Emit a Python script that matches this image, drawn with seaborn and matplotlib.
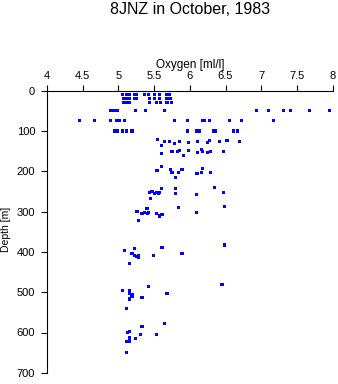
import matplotlib
matplotlib.use("Agg")
import matplotlib.pyplot as plt
import seaborn as sns
import pandas as pd

title = "8JNZ in October, 1983"
xlabel = "Oxygen [ml/l]"
ylabel = "Depth [m]"
x_ticks = [4, 4.5, 5, 5.5, 6, 6.5, 7, 7.5, 8]
x_tick_labels = ["4", "4.5", "5", "5.5", "6", "6.5", "7", "7.5", "8"]
y_ticks = [0, 100, 200, 300, 400, 500, 600, 700]

# upper layer (0-100 m)
oxygen_upper = [5.06, 5.10, 5.14, 5.17, 5.24, 5.28, 5.34, 5.40, 5.51, 5.57, 5.64,
                5.06, 5.12, 5.16, 5.22, 5.25, 5.36, 5.42, 5.51, 5.57, 5.68, 5.71,
                5.07, 5.11, 5.16, 5.22, 5.25, 5.44, 5.51, 5.57, 5.68, 5.73,
                5.07, 5.11, 5.16, 5.44, 5.53, 5.59, 5.68, 5.74,
                4.89, 4.93, 4.98, 5.24, 5.38, 5.64, 6.93, 7.10, 7.31, 7.41, 7.67, 7.95,
                4.46, 4.66, 4.89, 4.97, 5.02, 5.08, 5.79, 5.97, 6.18, 6.20, 6.27, 6.55, 6.72, 7.17,
                4.95, 4.99, 5.06, 5.11, 5.19, 5.97, 6.09, 6.14, 6.33, 6.36, 6.61, 6.67]
depth_upper = [0, 0, 0, 0, 0, 0, 0, 0, 0, 0, 0,
               9, 9, 9, 9, 9, 9, 9, 9, 9, 9, 9,
               20, 20, 20, 20, 20, 20, 20, 20, 20, 20,
               30, 30, 30, 30, 30, 30, 30, 30,
               49, 49, 49, 49, 49, 49, 50, 50, 50, 50, 50, 50,
               75, 75, 75, 75, 75, 75, 75, 75, 75, 75, 75, 75, 75, 75,
               100, 100, 100, 100, 100, 100, 100, 100, 100, 100, 100, 100]

# intermediate layer (120-330 m)
oxygen_mid = [5.55, 5.60, 5.64, 5.71, 5.78, 5.86, 5.98, 6.11, 6.25, 6.27, 6.42, 6.52, 6.69,
              5.60, 5.75, 5.83, 5.86, 5.91, 5.98, 6.11, 6.16, 6.18, 6.25, 6.29, 6.47,
              5.60, 5.54, 5.73, 5.75, 5.80, 5.84, 5.89, 6.10, 6.16, 6.18, 6.29,
              5.60, 5.80, 6.34, 6.47, 5.44, 5.47, 5.50, 5.54, 5.56, 5.58, 5.45, 5.80, 6.09,
              6.48, 5.84, 6.09, 5.26, 5.28, 5.33, 5.37, 5.40, 5.41, 5.42, 5.53, 5.58, 5.61]
depth_mid = [122, 135, 125, 127, 131, 125, 128, 127, 129, 124, 127, 124, 127,
             155, 151, 151, 149, 161, 149, 153, 145, 151, 153, 151, 151,
             187, 199, 195, 203, 215, 202, 195, 205, 203, 193, 202,
             242, 242, 240, 252, 252, 250, 254, 252, 255, 252, 268, 256, 257,
             288, 290, 302, 299, 322, 304, 302, 292, 304, 302, 305, 311, 307]

# deep layer (380-650 m)
oxygen_deep = [5.08, 5.15, 5.19, 5.22, 5.23, 5.26, 5.28, 5.28, 5.49, 5.61, 5.89, 6.48,
               6.45, 5.06, 5.15, 5.42, 5.16, 5.19, 5.19, 5.15, 5.16, 5.33, 5.68, 5.11,
               5.33, 5.64, 5.15, 5.13, 5.53, 5.31, 5.15, 5.16, 5.24, 5.11, 5.15, 5.11]
depth_deep = [396, 429, 404, 391, 408, 412, 408, 413, 410, 388, 404, 383,
              480, 495, 495, 485, 504, 507, 511, 517, 515, 513, 504, 540,
              585, 577, 597, 600, 605, 605, 612, 614, 614, 622, 622, 649]

df = pd.DataFrame({
    "oxygen": oxygen_upper + oxygen_mid + oxygen_deep,
    "depth": depth_upper + depth_mid + depth_deep,
})

sns.set_theme(style="white")
plt.rcParams["font.family"] = ["Liberation Sans", "DejaVu Sans"]

fig = plt.figure(figsize=(3.38, 3.84), dpi=100)
ax = fig.add_axes([47 / 338, 1 - 372.8 / 384, (332.7 - 47) / 338, (372.8 - 90.7) / 384])

sns.scatterplot(data=df, x="oxygen", y="depth", ax=ax, marker="s", s=5,
                color="#0000ff", edgecolor="none", linewidth=0, legend=False)

ax.set_xlim(4, 8)
ax.set_ylim(700, 0)
ax.set_xticks(x_ticks)
ax.set_xticklabels(x_tick_labels)
ax.set_yticks(y_ticks)
ax.xaxis.tick_top()
ax.xaxis.set_label_position("top")
for s in ["right", "bottom"]:
    ax.spines[s].set_visible(False)
for s in ["left", "top"]:
    ax.spines[s].set_color("black")
    ax.spines[s].set_linewidth(0.8)
ax.tick_params(axis="both", direction="out", length=4.3, width=0.8, color="black",
               labelsize=8, labelcolor="black")
ax.tick_params(axis="x", pad=2.6, top=True, bottom=False)
ax.tick_params(axis="y", pad=4.2, left=True)
ax.set_xlabel(xlabel, fontsize=8.5, color="black", labelpad=2.5)
ax.set_ylabel(ylabel, fontsize=7.5, color="black", va="center")
ax.yaxis.set_label_coords(-0.144, 0.51)
ax.grid(False)

fig.text(189.7 / 338, 1 - 9.5 / 384, title, ha="center", va="center", fontsize=11.5, color="black")

fig.savefig("out.png", dpi=100)
